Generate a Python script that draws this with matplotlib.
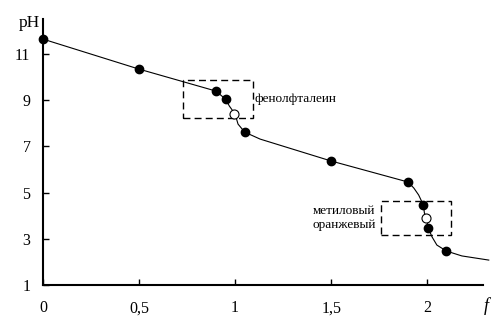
import matplotlib
matplotlib.use("Agg")
import matplotlib.pyplot as plt
from matplotlib.patches import Rectangle

plt.rcParams['font.family'] = ['Liberation Serif', 'DejaVu Serif']

# titration curve
curve_f = [0, 0.5, 0.9, 0.95, 0.97, 1.0, 1.015, 1.05, 1.13, 1.5, 1.9, 1.93, 1.955,
           1.98, 1.985, 1.995, 2.005, 2.025, 2.05, 2.1, 2.18, 2.32]
curve_ph = [11.65, 10.35, 9.4, 9.05, 8.75, 8.4, 7.97, 7.62, 7.32, 6.37, 5.46, 5.2, 4.9,
            4.46, 4.12, 3.9, 3.47, 3.08, 2.73, 2.47, 2.26, 2.08]

# measured points
pts_f = [0, 0.5, 0.9, 0.95, 1.05, 1.5, 1.9, 1.98, 2.005, 2.095]
pts_ph = [11.65, 10.35, 9.4, 9.05, 7.62, 6.37, 5.46, 4.46, 3.47, 2.47]

# equivalence points (open)
eq_f = [0.995, 1.995]
eq_ph = [8.4, 3.9]

# indicator ranges: (f_left, f_right, pH_low, pH_high)
phenol_box = (0.73, 1.095, 8.25, 9.87)
methyl_box = (1.76, 2.125, 3.17, 4.65)

xticks = [0, 0.5, 1, 1.5, 2]
xtick_labels = ['0', '0,5', '1', '1,5', '2']
yticks = [1, 3, 5, 7, 9, 11]

fig = plt.figure(figsize=(5, 3.25), dpi=100)
ax = fig.add_axes([0.086, 0.123, 0.88, 0.8185])
ax.set_xlim(0, 2.29)
ax.set_ylim(1, 12.52)

ax.plot(curve_f, curve_ph, color='black', lw=0.8, clip_on=False, zorder=3)
ax.plot(pts_f, pts_ph, 'o', color='black', ms=6, clip_on=False, zorder=4)
ax.plot(eq_f, eq_ph, 'o', mfc='white', mec='black', mew=0.8, ms=6.5, clip_on=False, zorder=5)

for (x0, x1, y0, y1) in (phenol_box, methyl_box):
    ax.add_patch(Rectangle((x0, y0), x1 - x0, y1 - y0, fill=False, ec='black',
                           lw=1.0, ls=(0, (5, 3)), zorder=2))

ax.text(phenol_box[1] + 0.005, (phenol_box[2] + phenol_box[3]) / 2, 'фенолфталеин',
        fontsize=9.5, ha='left', va='center')
ax.text(methyl_box[0] - 0.03, (methyl_box[2] + methyl_box[3]) / 2, 'метиловый\nоранжевый',
        fontsize=9.5, ha='right', va='center', linespacing=1.2)

for s in ['top', 'right']:
    ax.spines[s].set_visible(False)
for s in ['left', 'bottom']:
    ax.spines[s].set_linewidth(1.5)

ax.set_xticks(xticks)
ax.set_xticklabels(xtick_labels)
ax.set_yticks(yticks)
ax.tick_params(direction='in', length=4, width=1, labelsize=11.5, colors='black')
ax.tick_params(axis='x', pad=11)
ax.tick_params(axis='y', pad=9)

fig.text(29 / 500, 1 - 23 / 325, 'pH', fontsize=12.5, ha='center', va='center')
fig.text(486 / 500, 1 - 306 / 325, 'f', fontsize=13, style='italic', ha='center', va='center')

fig.savefig('out.png', dpi=100)
